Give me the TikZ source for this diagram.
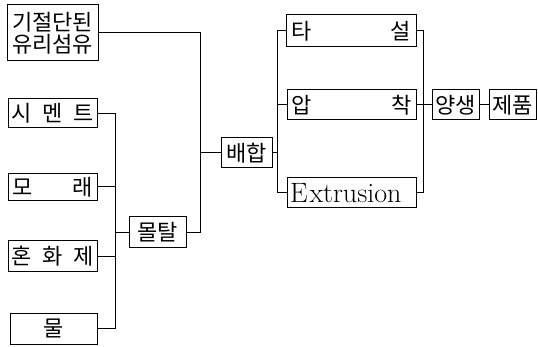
\documentclass[tikz,border=0pt]{standalone}
\usepackage{fontspec}
\newfontfamily\kr{Noto Sans CJK KR}
\begin{document}
\begin{tikzpicture}[x=1pt,y=-1pt,line width=1pt,
  box/.style={draw, inner sep=0pt, font=\kr\fontsize{22}{25}\selectfont, align=center},
  lat/.style={font=\fontsize{28}{30}\selectfont}
]
\useasboundingbox (0,0) rectangle (538,347);
% left column
\node[box, minimum width=91pt, minimum height=56pt] (fiber) at (52.5,33) {기절단된\\[-3pt]유리섬유};
\node[box, minimum width=89pt, minimum height=29pt] (cement) at (52.5,113.5) {\makebox[83pt][s]{시\hfill 멘\hfill 트}};
\node[box, minimum width=89pt, minimum height=27pt] (sand) at (52.5,187) {\makebox[80pt][s]{모\hfill 래}};
\node[box, minimum width=89pt, minimum height=31pt] (admix) at (52.5,256.5) {\makebox[83pt][s]{혼\hfill 화\hfill 제}};
\node[box, minimum width=87pt, minimum height=31pt] (water) at (53.5,328.5) {물};
\node[box, minimum width=57pt, minimum height=31pt] (mortar) at (157.5,232.5) {몰탈};
\node[box, minimum width=51pt, minimum height=30pt] (mix) at (246.5,153) {배합};
% forming
\node[box, minimum width=130pt, minimum height=32pt] (tasul) at (351,31) {\makebox[120pt][s]{타\hfill 설}};
\node[box, minimum width=129pt, minimum height=30pt] (apchak) at (351.5,105) {\makebox[120pt][s]{압\hfill 착}};
\node[box, lat, minimum width=129pt, minimum height=30pt] (extr) at (352,193) {\makebox[124pt][l]{E\kern2pt xtrusion}};
\node[box, minimum width=47pt, minimum height=30pt] (cure) at (455.5,105) {양생};
\node[box, minimum width=47pt, minimum height=30pt] (product) at (512.5,105) {제품};
% bus coordinates
\coordinate (lbus) at (115,0);
\coordinate (mbus) at (200,0);
\coordinate (pbus) at (277,0);
\coordinate (qbus) at (423,0);
% connectors
\draw (cement.east) -| (lbus |- water.east) -- (water.east);
\draw (sand.east) -- (sand.east -| lbus);
\draw (admix.east) -- (admix.east -| lbus);
\draw (mortar.west) -- (mortar.west -| lbus);
\draw (mortar.east) -| (mbus |- fiber.east) -- (fiber.east);
\draw (mix.west) -- (mix.west -| mbus);
\draw (tasul.west) -| (pbus |- extr.west) -- (extr.west);
\draw (apchak.west) -- (apchak.west -| pbus);
\draw (mix.east) -- (mix.east -| pbus);
\draw (tasul.east) -| (qbus |- extr.east) -- (extr.east);
\draw (apchak.east) -- (cure.west);
\draw (cure.east) -- (product.west);
\end{tikzpicture}
\end{document}
